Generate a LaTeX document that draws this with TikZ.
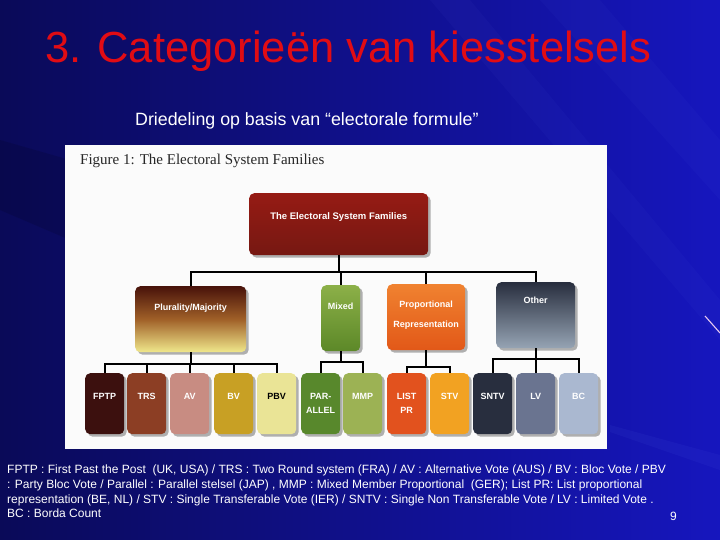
\documentclass[tikz,border=0pt]{standalone}
\usepackage{fontspec}
\setmainfont{Liberation Sans}
\newfontfamily\figserif{Liberation Serif}
\usetikzlibrary{shadows}
\definecolor{bgL}{RGB}{10,10,88}
\definecolor{bgR}{RGB}{22,22,190}
\definecolor{titlered}{RGB}{225,12,20}
\definecolor{rootc}{RGB}{138,30,22}
\definecolor{rootd}{RGB}{118,24,18}
\definecolor{plA}{RGB}{72,18,10}
\definecolor{plB}{RGB}{160,96,40}
\definecolor{plC}{RGB}{240,232,140}
\definecolor{mxA}{RGB}{140,176,72}
\definecolor{mxB}{RGB}{92,136,40}
\definecolor{prA}{RGB}{240,130,48}
\definecolor{prB}{RGB}{226,88,24}
\definecolor{otA}{RGB}{40,46,62}
\definecolor{otB}{RGB}{150,164,180}
\definecolor{cFPTP}{RGB}{60,16,14}
\definecolor{cTRS}{RGB}{140,62,36}
\definecolor{cAV}{RGB}{200,140,130}
\definecolor{cBV}{RGB}{200,160,36}
\definecolor{cPBV}{RGB}{234,228,150}
\definecolor{cPAR}{RGB}{88,136,44}
\definecolor{cMMP}{RGB}{156,178,84}
\definecolor{cLIST}{RGB}{226,82,30}
\definecolor{cSTV}{RGB}{242,162,34}
\definecolor{cSNTV}{RGB}{40,46,62}
\definecolor{cLV}{RGB}{106,116,144}
\definecolor{cBC}{RGB}{170,184,208}
\definecolor{streak}{RGB}{120,140,255}
\definecolor{pinkline}{RGB}{230,200,240}
\begin{document}
\begin{tikzpicture}[x=1pt,y=-1pt,
  fam/.style={draw=none, rounded corners=5pt, inner sep=0pt, anchor=north west,
    font=\fontsize{9}{12}\selectfont\bfseries, text=white, align=center,
    drop shadow={shadow xshift=2.5pt, shadow yshift=-2.5pt, opacity=0.3, fill=black}},
  rootbox/.style={fam, minimum width=179pt, minimum height=62pt, text height=26pt, text depth=36pt,
    top color=rootc!90!red, bottom color=rootd, font=\fontsize{9.5}{12}\selectfont\bfseries},
  topbox/.style={fam, minimum height=66pt, text height=24pt, text depth=42pt},
  subbox/.style={fam, minimum width=39pt, minimum height=61pt, text height=26pt, text depth=35pt,
    font=\fontsize{9}{14}\selectfont\bfseries},
  subtwo/.style={subbox, text height=40pt, text depth=21pt},
  conn/.style={draw=black, line width=1.9pt, line join=miter},
  foot/.style={anchor=base west, text=white, inner sep=0pt, font=\fontsize{12}{14}\selectfont}
]
\useasboundingbox (0,0) rectangle (720,540);
% background
\shade[left color=bgL, right color=bgR] (0,0) rectangle (720,540);
\fill[streak, opacity=0.04] (430,0) -- (470,0) -- (720,300) -- (720,340) -- cycle;
\fill[streak, opacity=0.035] (540,0) -- (600,0) -- (720,140) -- (720,200) -- cycle;
\fill[streak, opacity=0.06] (610,425) -- (720,455) -- (720,470) -- (610,432) -- cycle;
\fill[black, opacity=0.12] (0,140) -- (70,160) -- (70,240) -- (0,210) -- cycle;
\draw[pinkline, line width=1.1pt] (705,316) -- (720,333);

% titles
\node[anchor=base west, inner sep=0pt, text=titlered, font=\fontsize{43.5}{50}\selectfont] (title) at (45,63) {3. Categorieën van kiesstelsels};
\node[anchor=base west, inner sep=0pt, text=white, font=\fontsize{17.8}{20}\selectfont] (subtitle) at (135,126) {Driedeling op basis van “electorale formule”};

% figure panel
\fill[white!97!gray] (65,145) rectangle (607,449);
\node[anchor=base west, inner sep=0pt, text=black!85, font=\figserif\fontsize{15}{18}\selectfont] (figcap) at (80,165) {Figure 1: The Electoral System Families};

% root
\node[rootbox] (root) at (249,193) {The Electoral System Families};

% level 1
\node[topbox, minimum width=111pt, top color=plA, bottom color=plC, middle color=plB] (plur) at (135,286) {Plurality/Majority};
\node[topbox, minimum width=39pt, top color=mxA, bottom color=mxB] (mixed) at (321,285) {Mixed};
\node[topbox, minimum width=78pt, top color=prA, bottom color=prB, text height=43pt, text depth=23pt,
  font=\fontsize{9}{20}\selectfont\bfseries] (prop) at (387,284) {Proportional\\Representation};
\node[topbox, minimum width=79pt, top color=otA, bottom color=otB, text height=21pt, text depth=45pt] (other) at (496,282) {Other};

% level 2
\node[subbox, fill=cFPTP] (fptp) at (85,373) {FPTP};
\node[subbox, fill=cTRS] (trs) at (127,373) {TRS};
\node[subbox, fill=cAV] (av) at (170,373) {AV};
\node[subbox, fill=cBV] (bv) at (214,373) {BV};
\node[subbox, fill=cPBV, text=black] (pbv) at (257,373) {PBV};
\node[subtwo, fill=cPAR] (par) at (301,373) {PAR-\\ALLEL};
\node[subbox, fill=cMMP] (mmp) at (343,373) {MMP};
\node[subtwo, fill=cLIST] (list) at (387,373) {LIST\\PR};
\node[subbox, fill=cSTV] (stv) at (430,373) {STV};
\node[subbox, fill=cSNTV] (sntv) at (473,373) {SNTV};
\node[subbox, fill=cLV] (lv) at (516,373) {LV};
\node[subbox, fill=cBC] (bc) at (559,373) {BC};

% connectors
\foreach \t in {plur,mixed,prop,other}
  \draw[conn] (root.south) -- ++(0,17) -| (\t.north);
\foreach \t in {fptp,trs,av,bv,pbv}
  \draw[conn] (plur.south) -- ++(0,12) -| (\t.north);
\foreach \t in {par,mmp}
  \draw[conn] (mixed.south) -- ++(0,11) -| (\t.north);
\foreach \t in {list,stv}
  \draw[conn] (prop.south) -- ++(0,17) -| (\t.north);
\foreach \t in {sntv,lv,bc}
  \draw[conn] (other.south) -- ++(0,11) -| (\t.north);

% footnote
\node[foot] (f1) at (7,473) {FPTP : First Past the Post \ (UK, USA) / TRS : Two Round system (FRA) / AV : Alternative Vote (AUS) / BV : Bloc Vote / PBV};
\node[foot] (f2) at (7,488) {: Party Bloc Vote / Parallel : Parallel stelsel (JAP) , MMP : Mixed Member Proportional \ (GER); List PR: List proportional};
\node[foot] (f3) at (7,503) {representation (BE, NL) / STV : Single Transferable Vote (IER) / SNTV : Single Non Transferable Vote / LV : Limited Vote .};
\node[foot] (f4) at (7,517) {BC : Borda Count};
\node[foot] (pnum) at (670,520) {9};
\end{tikzpicture}
\end{document}
